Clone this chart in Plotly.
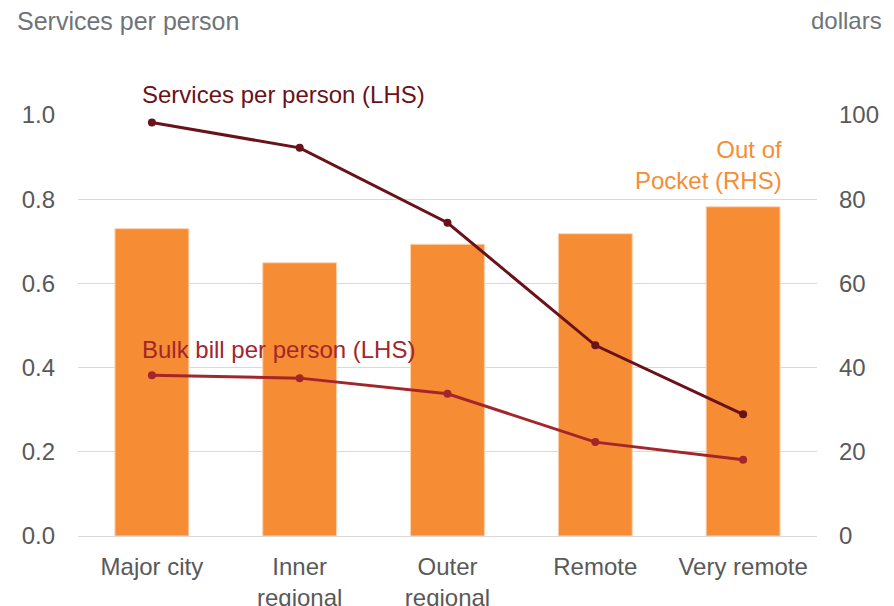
import plotly.graph_objects as go

categories = ["Major city", "Inner<br>regional", "Outer<br>regional", "Remote", "Very remote"]
out_of_pocket = [73.0, 64.9, 69.3, 71.8, 78.2]
services_pp = [0.982, 0.922, 0.744, 0.453, 0.289]
bulk_bill_pp = [0.382, 0.375, 0.338, 0.223, 0.181]
left_ticks = [0.0, 0.2, 0.4, 0.6, 0.8, 1.0]
right_ticks = [0, 20, 40, 60, 80, 100]

ORANGE = "#f68d35"
MAROON = "#6a1219"
RED = "#a3262b"
GREY = "#595959"
TITLE_GREY = "#6e7479"
FONT = "Liberation Sans, Arial, sans-serif"

# the page body adds an 8px margin; compensate so the plot lands where the reference has it
OFF = 8
W, H = 894 - OFF, 606 - OFF
PLOT_L, PLOT_R, PLOT_T, PLOT_B = 78, 817, 115, 536  # page pixels
L, R, T, B = PLOT_L - OFF, W - (PLOT_R - OFF), PLOT_T - OFF, H - (PLOT_B - OFF)
PW, PH = W - L - R, H - T - B


def px(x):
    return (x - OFF - L) / PW


def py(y):
    return (H - B - (y - OFF)) / PH


fig = go.Figure()
# bars on the primary (right-hand, dollars) axis so lines sit on top
fig.add_trace(go.Bar(x=categories, y=out_of_pocket, yaxis="y", width=0.5,
                     marker=dict(color=ORANGE, line=dict(color="#fbd3b0", width=1)),
                     showlegend=False))
fig.add_trace(go.Scatter(x=categories, y=services_pp, yaxis="y2", mode="lines+markers",
                         line=dict(color=MAROON, width=3),
                         marker=dict(color=MAROON, size=8), showlegend=False))
fig.add_trace(go.Scatter(x=categories, y=bulk_bill_pp, yaxis="y2", mode="lines+markers",
                         line=dict(color=RED, width=3),
                         marker=dict(color=RED, size=8), showlegend=False))

fig.update_layout(
    width=W, height=H,
    margin=dict(l=L, r=R, t=T, b=B),
    paper_bgcolor="white", plot_bgcolor="white",
    font=dict(family=FONT, size=24, color=GREY),
    xaxis=dict(showgrid=False, showline=False, ticks="", ticklabelstandoff=14,
               automargin=False, tickfont=dict(size=24, color=GREY)),
    yaxis=dict(range=[0, 100], tickvals=right_ticks, side="right",
               showgrid=True, gridcolor="#d9d9d9", gridwidth=1,
               zeroline=True, zerolinecolor="#d9d9d9", zerolinewidth=1,
               showline=False, ticks="", ticklabelstandoff=21, automargin=False,
               tickfont=dict(size=24, color=GREY)),
    yaxis2=dict(range=[0, 1.0], tickvals=left_ticks,
                ticktext=[f"{v:.1f}" for v in left_ticks],
                overlaying="y", side="left",
                showgrid=False, zeroline=False, showline=False, ticks="",
                ticklabelstandoff=22, automargin=False,
                tickfont=dict(size=24, color=GREY)),
    bargap=0.5,
)

fig.add_annotation(xref="paper", yref="paper", x=px(15), y=py(21),
                   xanchor="left", yanchor="middle", showarrow=False,
                   text="Services per person", font=dict(size=25, color=TITLE_GREY))
fig.add_annotation(xref="paper", yref="paper", x=px(884), y=py(21),
                   xanchor="right", yanchor="middle", showarrow=False,
                   text="dollars", font=dict(size=24, color=TITLE_GREY))
fig.add_annotation(xref="paper", yref="paper", x=px(140), y=py(94),
                   xanchor="left", yanchor="middle", showarrow=False,
                   text="Services per person (LHS)", font=dict(size=24, color=MAROON))
fig.add_annotation(xref="paper", yref="paper", x=px(140), y=py(349),
                   xanchor="left", yanchor="middle", showarrow=False,
                   text="Bulk bill per person (LHS)", font=dict(size=24, color=RED))
fig.add_annotation(xref="paper", yref="paper", x=px(784), y=py(165),
                   xanchor="right", yanchor="middle", showarrow=False,
                   align="right", text="Out of<br>Pocket (RHS)",
                   font=dict(size=24, color=ORANGE))

fig.write_html("out.html")
